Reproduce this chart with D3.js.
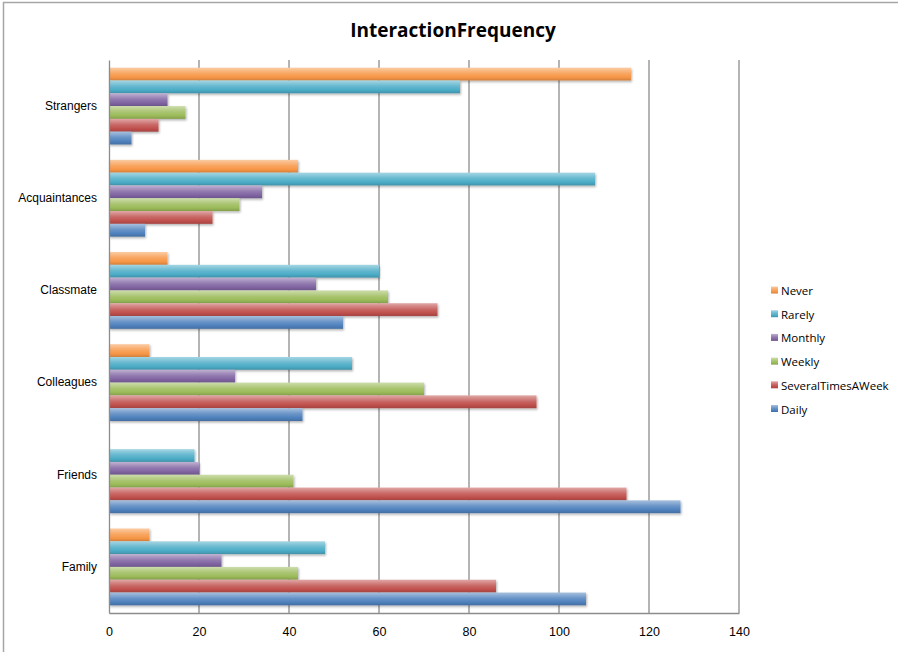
<!DOCTYPE html>
<html>
<head>
<meta charset="utf-8">
<script src="https://cdn.jsdelivr.net/npm/d3@7"></script>
<style>
  html, body { margin: 0; padding: 0; background: #fff; }
  svg { display: block; font-family: "Open Sans", "Liberation Sans", sans-serif; }
</style>
</head>
<body>
<svg id="chart" width="898" height="652"></svg>
<script>
// Relationship categories, drawn bottom to top
const categories = ["Family", "Friends", "Colleagues", "Classmate", "Acquaintances", "Strangers"];
// Frequency series, listed top to bottom within each group
const seriesNames = ["Never", "Rarely", "Monthly", "Weekly", "SeveralTimesAWeek", "Daily"];
const seriesColors = ["#F79646", "#4BACC6", "#8064A2", "#9BBB59", "#C0504D", "#4F81BD"];

// Counts per category, one array per series (order follows categories)
const neverVals      = [9, 0, 9, 13, 42, 116];
const rarelyVals     = [48, 19, 54, 60, 108, 78];
const monthlyVals    = [25, 20, 28, 46, 34, 13];
const weeklyVals     = [42, 41, 70, 62, 29, 17];
const severalVals    = [86, 115, 95, 73, 23, 11];
const dailyVals      = [106, 127, 43, 52, 8, 5];
const seriesValues = [neverVals, rarelyVals, monthlyVals, weeklyVals, severalVals, dailyVals];

const xTicks = [0, 20, 40, 60, 80, 100, 120, 140];
const chartTitle = "InteractionFrequency";

const svg = d3.select("#chart");
const W = 898, H = 652;
const plot = { left: 109, right: 739, top: 60, bottom: 613 };

// Outer chart frame
svg.append("path")
  .attr("d", `M3.5,${H} L3.5,2.5 L${W},2.5`)
  .attr("fill", "none").attr("stroke", "#a6a6a6").attr("stroke-width", 1.5);

const defs = svg.append("defs");
seriesColors.forEach((c, i) => {
  const g = defs.append("linearGradient").attr("id", "grad" + i)
    .attr("x1", 0).attr("y1", 0).attr("x2", 0).attr("y2", 1);
  const base = d3.color(c);
  g.append("stop").attr("offset", "0%").attr("stop-color", d3.interpolateRgb(c, "#fff")(0.5));
  g.append("stop").attr("offset", "45%").attr("stop-color", d3.interpolateRgb(c, "#fff")(0.15));
  g.append("stop").attr("offset", "75%").attr("stop-color", base.formatHex());
  g.append("stop").attr("offset", "100%").attr("stop-color", base.darker(0.45).formatHex());
});
const sh = defs.append("filter").attr("id", "shadow")
  .attr("x", "-5%").attr("y", "-30%").attr("width", "115%").attr("height", "180%");
sh.append("feDropShadow").attr("dx", 1).attr("dy", 1.5).attr("stdDeviation", 1.2)
  .attr("flood-color", "#000").attr("flood-opacity", 0.3);

const x = d3.scaleLinear().domain([0, 140]).range([plot.left, plot.right]);
const y0 = d3.scaleBand().domain(categories.slice().reverse())
  .range([plot.top, plot.bottom]).padding(0);
const y1 = d3.scaleBand().domain(seriesNames)
  .range([0, y0.bandwidth()]).paddingInner(0).paddingOuter(0.6);

// Vertical gridlines
svg.append("g").selectAll("line").data(xTicks.slice(1)).join("line")
  .attr("x1", d => x(d)).attr("x2", d => x(d))
  .attr("y1", plot.top).attr("y2", plot.bottom)
  .attr("stroke", "#8c8c8c").attr("stroke-width", 1.3);

// Bars
const groups = svg.append("g").selectAll("g").data(categories).join("g")
  .attr("transform", d => `translate(0,${y0(d)})`);
groups.selectAll("rect")
  .data((cat, ci) => seriesNames.map((s, si) => ({ s, si, v: seriesValues[si][ci] })))
  .join("rect")
  .filter(d => d.v > 0)
  .attr("x", x(0))
  .attr("y", d => y1(d.s))
  .attr("width", d => x(d.v) - x(0))
  .attr("height", y1.bandwidth())
  .attr("fill", d => `url(#grad${d.si})`)
  .attr("filter", "url(#shadow)");

// Axes
const xAxis = d3.axisBottom(x).tickValues(xTicks).tickSize(0).tickPadding(14);
const gx = svg.append("g").attr("transform", `translate(0,${plot.bottom})`).call(xAxis);
gx.select(".domain").attr("stroke", "#8c8c8c").attr("stroke-width", 1.3);
gx.selectAll("text").attr("font-size", 12.5).attr("fill", "#000");

const yAxis = d3.axisLeft(y0).tickSize(0).tickPadding(12);
const gy = svg.append("g").attr("transform", `translate(${plot.left},0)`).call(yAxis);
gy.select(".domain").attr("stroke", "#8c8c8c").attr("stroke-width", 1.3);
gy.selectAll("text").attr("font-size", 12).attr("fill", "#000");

// Title
svg.append("text").attr("x", 453).attr("y", 37).attr("text-anchor", "middle")
  .attr("font-size", 19).attr("font-weight", "bold").attr("fill", "#000")
  .text(chartTitle);

// Legend
const legend = svg.append("g").attr("transform", "translate(771,291)");
const li = legend.selectAll("g").data(seriesNames).join("g")
  .attr("transform", (d, i) => `translate(0,${i * 23.7})`);
li.append("rect").attr("x", 0).attr("y", -4.5).attr("width", 7).attr("height", 7)
  .attr("fill", (d, i) => `url(#grad${i})`);
li.append("text").attr("x", 10).attr("y", 0).attr("dy", "0.35em")
  .attr("font-size", 11.5).attr("fill", "#000").text(d => d);
</script>
</body>
</html>
